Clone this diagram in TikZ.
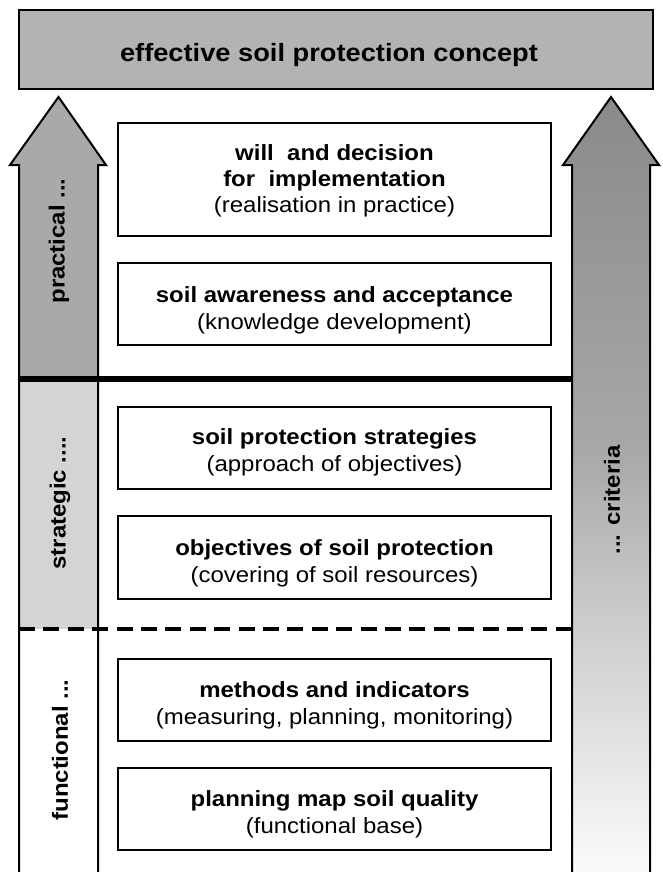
\documentclass[tikz,border=0pt]{standalone}
\usepackage{fontspec}
\setmainfont{Liberation Sans}[FakeStretch=1.09]
\begin{document}
\begin{tikzpicture}[x=1pt,y=-1pt,
  lvl/.style={draw=black, line width=2pt, fill=white, minimum width=433pt, inner sep=0pt},
  lvltext/.style={align=center, inner sep=0pt, anchor=base, font=\fontsize{22}{27}\selectfont},
  sidelabel/.style={rotate=90, font=\fontsize{22}{26}\selectfont\bfseries, inner sep=0pt},
  arrowline/.style={draw=black, line width=2pt, line join=miter},
]
\definecolor{topgray}{HTML}{B3B3B3}
\definecolor{pracgray}{HTML}{A9A9A9}
\definecolor{stratgray}{HTML}{D4D4D4}
\definecolor{critA}{HTML}{8A8A8A}
\definecolor{critB}{HTML}{A8A8A8}
\definecolor{critC}{HTML}{CCCCCC}
\definecolor{critD}{HTML}{FBFBFB}
\pgfdeclareverticalshading{critshade}{100bp}{color(0bp)=(critD); color(25bp)=(critD); color(41.3bp)=(critC); color(52.2bp)=(critB); color(75bp)=(critA); color(100bp)=(critA)}
\useasboundingbox (0,0) rectangle (662,872);
\fill[white] (0,0) rectangle (662,872);

% top box
\node[draw=black, line width=2pt, fill=topgray, minimum width=634pt, minimum height=79pt, inner sep=0pt] (top) at (336,49.5) {};
\node[anchor=base, inner sep=0pt, font=\fontsize{25}{29}\selectfont\bfseries] (toptext) at (329,62) {effective soil protection concept};

% left arrow fills
\fill[pracgray] (19,379) -- (19,165) -- (10,165) -- (58.5,97) -- (106,165) -- (98,165) -- (98,379) -- cycle;
\fill[stratgray] (19,379) rectangle (98,629);
\draw[arrowline] (19,872) -- (19,165) -- (10,165) -- (58.5,97) -- (106,165) -- (98,165) -- (98,872);

% right arrow
\shade[shading=critshade] (572,872) -- (572,165) -- (563,165) -- (611,97) -- (659,165) -- (650,165) -- (650,872) -- cycle;
\draw[arrowline] (572,872) -- (572,165) -- (563,165) -- (611,97) -- (659,165) -- (650,165) -- (650,872);

% level boxes
\node[lvl, minimum height=113pt] (b1) at (334.5,179.5) {};
\node[lvltext, font=\fontsize{22}{26}\selectfont] (t1) at (334.5,212)
  {\textbf{will\ \ and decision}\\ \textbf{for\ \ implementation}\\ (realisation in practice)};
\node[lvl, minimum height=82pt] (b2) at (334.5,304) {};
\node[lvltext] (t2) at (334.5,329)
  {\textbf{soil awareness and acceptance}\\ (knowledge development)};
\node[lvl, minimum height=82pt] (b3) at (334.5,447.5) {};
\node[lvltext] (t3) at (334.5,471.5)
  {\textbf{soil protection strategies}\\ (approach of objectives)};
\node[lvl, minimum height=83pt] (b4) at (334.5,557.5) {};
\node[lvltext] (t4) at (334.5,582)
  {\textbf{objectives of soil protection}\\ (covering of soil resources)};
\node[lvl, minimum height=82pt] (b5) at (334.5,699.5) {};
\node[lvltext] (t5) at (334.5,724)
  {\textbf{methods and indicators}\\ (measuring, planning, monitoring)};
\node[lvl, minimum height=82pt] (b6) at (334.5,809) {};
\node[lvltext] (t6) at (334.5,833.5)
  {\textbf{planning map soil quality}\\ (functional base)};

% separators
\coordinate (sepAL) at (19,379);
\coordinate (sepAR) at (572,379);
\coordinate (sepBL) at (19,629);
\coordinate (sepBR) at (572,629);
\draw[line width=5.5pt] (sepAL) -- (sepAR);
\draw[line width=3.5pt, dash pattern=on 16pt off 8.4pt] (sepBL) -- (sepBR);

% side labels
\node[sidelabel] (prac) at (59,241) {practical ...};
\node[sidelabel] (strat) at (60,503) {strategic ....};
\node[sidelabel] (func) at (60,750) {functional ...};
\node[sidelabel] (crit) at (612,500) {... criteria};
\end{tikzpicture}
\end{document}
